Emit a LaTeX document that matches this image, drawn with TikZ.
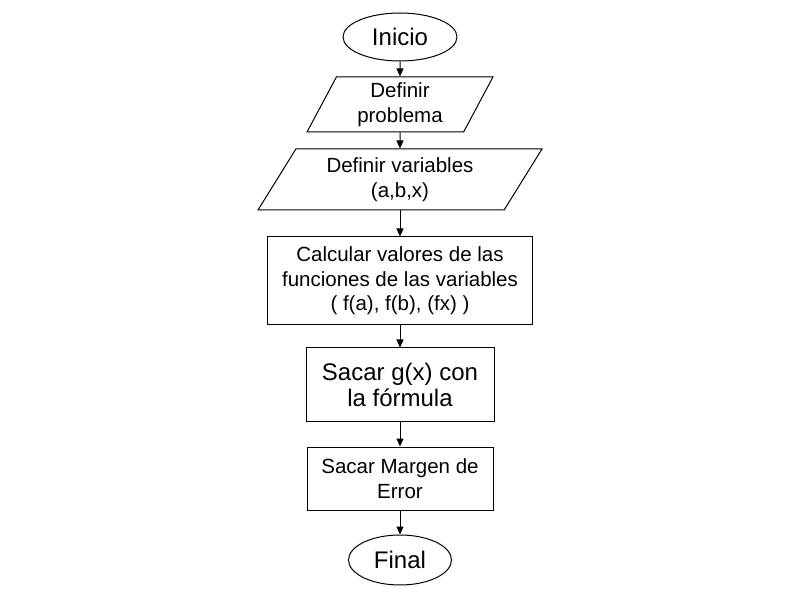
\documentclass[tikz,border=0pt]{standalone}
\usepackage{fontspec}
\setmainfont{Liberation Sans}
\usetikzlibrary{shapes.geometric,arrows.meta}
\begin{document}
\begin{tikzpicture}[x=1pt, y=1pt, line width=1pt]
\tikzstyle{terminal} = [ellipse, draw=black, inner sep=0pt, text centered, font=\fontsize{24}{27}\selectfont]
\tikzstyle{datos} = [trapezium, trapezium stretches body, draw=black, inner sep=0pt, align=center, font=\fontsize{20.5}{24.5}\selectfont]
\tikzstyle{proceso} = [rectangle, draw=black, inner sep=0pt, align=center, font=\fontsize{20.5}{24.5}\selectfont]
\tikzstyle{arrow} = [->, >={Triangle[length=8pt,width=7pt]}]
%
\useasboundingbox (0,0) rectangle (800,600);
\node (inicio)    [terminal, minimum width=114pt, minimum height=48pt] at (400,563) {Inicio};
\node (problema)  [datos,   below of=inicio,    node distance=67.5pt, trapezium left angle=56, trapezium right angle=124, minimum width=186pt, minimum height=55pt] {Definir\\problema};
\node (variables) [datos,   below of=problema,  node distance=75pt, trapezium left angle=49, trapezium right angle=131, minimum width=284pt, minimum height=61pt] {Definir variables\\(a,b,x)};
\node (funciones) [proceso, below of=variables, node distance=101.5pt, minimum width=265pt, minimum height=88pt] {Calcular\ valores\ de\ las\\funciones de las variables\\( f(a), f(b), (fx) )};
\node (formula)   [proceso, below of=funciones, node distance=104pt, minimum width=188pt, minimum height=74pt, font=\fontsize{24}{26.5}\selectfont] {Sacar g(x) con\\la fórmula};
\node (error)     [proceso, below of=formula,   node distance=93.5pt, minimum width=186pt, minimum height=63pt] {Sacar Margen\ de\\Error};
\node (final)     [terminal, below of=error,    node distance=81.5pt, minimum width=103pt, minimum height=50pt] {Final};
%
\draw [arrow] (inicio)    -- (problema);
\draw [arrow] (problema)  -- (variables);
\draw [arrow] (variables) -- (funciones);
\draw [arrow] (funciones) -- (formula);
\draw [arrow] (formula)   -- (error);
\draw [arrow] (error)     -- (final);
\end{tikzpicture}
\end{document}
